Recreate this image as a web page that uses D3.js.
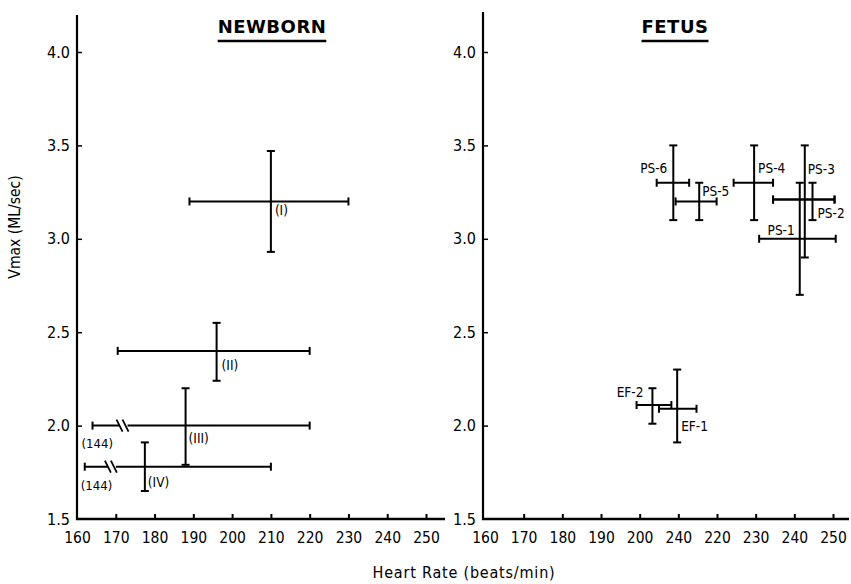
<!DOCTYPE html>
<html>
<head>
<meta charset="utf-8">
<script src="https://cdn.jsdelivr.net/npm/d3@7/dist/d3.min.js"></script>
<style>
  body { margin: 0; background: #fff; }
  svg text { font-family: "DejaVu Sans Condensed", "DejaVu Sans", sans-serif; font-stretch: condensed; fill: #000; }
</style>
</head>
<body>
<div id="chart"></div>
<script>
// ---- data ----
var xTicks = [160, 170, 180, 190, 200, 210, 220, 230, 240, 250]
var xTickLabelsNewborn = ['160', '170', '180', '190', '200', '210', '220', '230', '240', '250']
var xTickLabelsFetus = ['160', '170', '180', '190', '200', '240', '220', '230', '240', '250']  // as printed
var yTicks = [1.5, 2.0, 2.5, 3.0, 3.5, 4.0]

var newbornLabels = ['(I)', '(II)', '(III)', '(IV)']
var newbornX   = [210, 196, 188, 177.5]
var newbornXLo = [189, 170.5, 164, 162]
var newbornXHi = [230, 220, 220, 210]
var newbornY   = [3.2, 2.4, 2.0, 1.78]
var newbornYLo = [2.93, 2.24, 1.79, 1.65]
var newbornYHi = [3.47, 2.55, 2.2, 1.91]
var newbornLowNote = ['', '', '(144)', '(144)']   // truncated lower range
var newbornBreakAt = [null, null, 172, 169]

var fetusLabels = ['PS-1', 'PS-2', 'PS-3', 'PS-4', 'PS-5', 'PS-6', 'EF-1', 'EF-2']
var fetusX   = [241.4, 244.7, 242.7, 229.6, 215.4, 208.7, 209.7, 203.3]
var fetusXLo = [230.9, 234.5, 234.5, 224.3, 209.3, 204.4, 205, 199.2]
var fetusXHi = [250.7, 250.4, 250.4, 234.5, 219.9, 212.8, 214.7, 208.2]
var fetusY   = [3.0, 3.21, 3.21, 3.3, 3.2, 3.3, 2.09, 2.11]
var fetusYLo = [2.7, 3.1, 2.9, 3.1, 3.1, 3.1, 1.91, 2.01]
var fetusYHi = [3.3, 3.3, 3.5, 3.5, 3.3, 3.5, 2.3, 2.2]

// label placement (pixels from the centre point)
var labelPos = {
  '(I)':   {dx: 4, dy: 14, anchor: 'start'},
  '(II)':  {dx: 5, dy: 19, anchor: 'start'},
  '(III)': {dx: 3, dy: 17, anchor: 'start'},
  '(IV)':  {dx: 3, dy: 20, anchor: 'start'},
  'PS-1':  {dx: -5, dy: -4, anchor: 'end'},
  'PS-2':  {dx: 5, dy: 18, anchor: 'start'},
  'PS-3':  {dx: 3, dy: -26, anchor: 'start'},
  'PS-4':  {dx: 4, dy: -10, anchor: 'start'},
  'PS-5':  {dx: 3, dy: -5, anchor: 'start'},
  'PS-6':  {dx: -6, dy: -10, anchor: 'end'},
  'EF-1':  {dx: 4, dy: 22, anchor: 'start'},
  'EF-2':  {dx: -9, dy: -8, anchor: 'end'}
}

var width = 851, height = 584
var svg = d3.select('#chart').append('svg').attr('width', width).attr('height', height)

var y = d3.scaleLinear().domain([1.5, 4.0]).range([519, 52])

function zip(labels, xs, xlo, xhi, ys, ylo, yhi) {
  return labels.map(function (l, i) {
    return {label: l, x: xs[i], xlo: xlo[i], xhi: xhi[i], y: ys[i], ylo: ylo[i], yhi: yhi[i], i: i}
  })
}

function panel(cfg) {
  var g = svg.append('g')
  var x = d3.scaleLinear().domain([160, 250]).range(cfg.range)

  // axes
  var xAxis = d3.axisBottom(x).tickValues(xTicks)
    .tickFormat(function (d, i) { return cfg.tickLabels[i] })
    .tickSizeInner(-5).tickSizeOuter(0).tickPadding(13)
  var gx = g.append('g').attr('transform', 'translate(0,' + y(1.5) + ')').call(xAxis)
  gx.select('.domain').remove()
  gx.selectAll('line').attr('stroke', '#000').attr('stroke-width', 2)
  gx.selectAll('text').attr('font-size', 15.5).attr('fill', '#000')
  gx.selectAll('.tick').filter(function (d) { return d === 160 }).select('line').remove()

  var yAxis = d3.axisLeft(y).tickValues(yTicks).tickFormat(d3.format('.1f'))
    .tickSizeInner(-5).tickSizeOuter(0).tickPadding(7)
  var gy = g.append('g').attr('transform', 'translate(' + cfg.axisX + ',0)').call(yAxis)
  gy.select('.domain').remove()
  gy.selectAll('line').attr('stroke', '#000').attr('stroke-width', 1.5)
  gy.selectAll('text').attr('font-size', 16).attr('fill', '#000')
  gy.selectAll('.tick').filter(function (d) { return d === 1.5 }).select('line').remove()

  g.append('line').attr('x1', cfg.axisX).attr('x2', cfg.axisX)
    .attr('y1', cfg.top).attr('y2', y(1.5) + 1)
    .attr('stroke', '#000').attr('stroke-width', 2.2)
  g.append('line').attr('x1', cfg.axisX - 1).attr('x2', cfg.xEnd)
    .attr('y1', y(1.5)).attr('y2', y(1.5))
    .attr('stroke', '#000').attr('stroke-width', 2.4)

  // title
  var t = g.append('text').attr('x', cfg.titleX).attr('y', 33)
    .attr('text-anchor', 'middle').attr('font-size', 18).attr('font-weight', 'bold')
    .style('font-family', '"DejaVu Sans", sans-serif').style('font-stretch', 'normal')
    .attr('letter-spacing', 0.5)
    .text(cfg.title)
  var bb = t.node().getBBox()
  g.append('line').attr('x1', bb.x).attr('x2', bb.x + bb.width)
    .attr('y1', 41).attr('y2', 41).attr('stroke', '#000').attr('stroke-width', 2.4)

  // error crosses
  var cap = 4
  var pts = g.selectAll('.pt').data(cfg.data).enter().append('g').attr('class', 'pt')
  pts.each(function (d) {
    var p = d3.select(this)
    var cx = x(d.x), cy = y(d.y)
    var seg = [
      [x(d.xlo), cy, x(d.xhi), cy],
      [cx, y(d.ylo), cx, y(d.yhi)],
      [x(d.xlo), cy - cap, x(d.xlo), cy + cap],
      [x(d.xhi), cy - cap, x(d.xhi), cy + cap],
      [cx - cap, y(d.ylo), cx + cap, y(d.ylo)],
      [cx - cap, y(d.yhi), cx + cap, y(d.yhi)]
    ]
    p.selectAll('line').data(seg).enter().append('line')
      .attr('x1', function (s) { return s[0] }).attr('y1', function (s) { return s[1] })
      .attr('x2', function (s) { return s[2] }).attr('y2', function (s) { return s[3] })
      .attr('stroke', '#000').attr('stroke-width', 2)

    if (cfg.breaks && cfg.breaks[d.i] != null) {
      var bx = x(cfg.breaks[d.i])
      p.append('rect').attr('x', bx - 4).attr('y', cy - 3).attr('width', 8).attr('height', 6).attr('fill', '#fff')
      ;[-4, 2].forEach(function (o) {
        p.append('line').attr('x1', bx + o - 3).attr('y1', cy - 6).attr('x2', bx + o + 3).attr('y2', cy + 6)
          .attr('stroke', '#000').attr('stroke-width', 1.8)
      })
    }
    if (cfg.notes && cfg.notes[d.i]) {
      p.append('text').attr('x', x(d.xlo) - (d.i === 2 ? 11 : 4)).attr('y', cy + (d.i === 2 ? 22 : 23))
        .attr('font-size', 13).text(cfg.notes[d.i])
    }
    var lp = labelPos[d.label]
    p.append('text').attr('x', cx + lp.dx).attr('y', cy + lp.dy)
      .attr('text-anchor', lp.anchor).attr('font-size', 13.5).text(d.label)
  })
}

panel({
  title: 'NEWBORN', titleX: 272, axisX: 77, top: 15, xEnd: 445, range: [77, 426],
  tickLabels: xTickLabelsNewborn,
  data: zip(newbornLabels, newbornX, newbornXLo, newbornXHi, newbornY, newbornYLo, newbornYHi),
  breaks: newbornBreakAt, notes: newbornLowNote
})
panel({
  title: 'FETUS', titleX: 675, axisX: 483, top: 12, xEnd: 849, range: [485, 833],
  tickLabels: xTickLabelsFetus,
  data: zip(fetusLabels, fetusX, fetusXLo, fetusXHi, fetusY, fetusYLo, fetusYHi)
})

// axis titles
svg.append('text').attr('transform', 'translate(20,227) rotate(-90)')
  .attr('text-anchor', 'middle').attr('font-size', 15.5).text('Vmax (ML/sec)')
svg.append('text').attr('x', 464).attr('y', 578)
  .attr('text-anchor', 'middle').attr('font-size', 16).attr('letter-spacing', 0.8).text('Heart Rate (beats/min)')
</script>
</body>
</html>
